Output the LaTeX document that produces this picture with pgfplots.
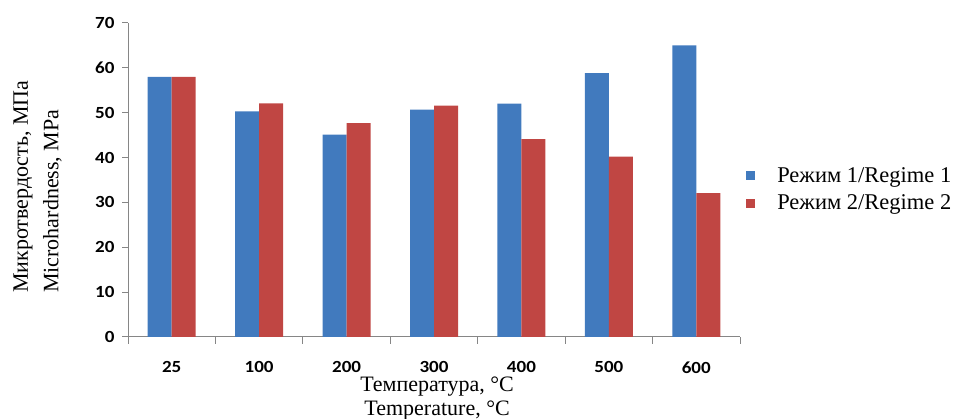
\documentclass[border=0pt]{standalone}
\usepackage{fontspec}
\setmainfont{Liberation Serif}
\newfontfamily\tickfont{Carlito}[FakeStretch=1.12]
\usepackage{pgfplots}
\pgfplotsset{compat=1.18}
\definecolor{rblue}{RGB}{65,122,190}
\definecolor{rred}{RGB}{192,70,67}
\definecolor{axgray}{RGB}{134,134,134}
\begin{document}
\begin{tikzpicture}
\useasboundingbox (0,0) rectangle (957pt,419pt);
\begin{axis}[
  at={(128pt,82pt)}, anchor=south west,
  scale only axis, width=612pt, height=314pt,
  ybar=0pt, bar width=24pt,
  xmin=-0.5, xmax=6.5, ymin=0, ymax=70,
  xtick={0,...,6}, xticklabels={25,100,200,300,400,500,600},
  minor xtick={-0.5,0.5,...,6.5},
  ytick={0,10,...,70},
  axis x line*=bottom, axis y line*=left,
  axis line style={axgray, line width=1pt, -},
  tick align=outside,
  major tick length=6pt, minor tick length=7pt,
  tick style={axgray, line width=1pt},
  major x tick style={draw=none},
  /pgf/number format/assume math mode=true,
  ticklabel style={font=\tickfont\bfseries\fontsize{17}{17}\selectfont},
  xticklabel style={inner sep=0pt, yshift=-18.5pt},
  yticklabel style={xshift=-4pt},
  xlabel={Температура, °C\\Temperature, °C},
  xlabel style={at={(rel axis cs:0.505,0)}, anchor=north, yshift=-39.5pt, inner sep=0pt, align=center, font=\fontsize{22}{24}\selectfont},
  ylabel={Микротвердость, МПа\\Microhardness, MPa},
  ylabel style={at={(rel axis cs:-0.1078,0.14)}, anchor=south west, inner sep=0pt, align=left, font=\fontsize{22}{30.5}\selectfont},
  legend style={at={(1.005,0.47)}, anchor=west, draw=none, fill=none, font=\fontsize{22.5}{22.5}\selectfont, row sep=7pt},
  legend cell align=left,
  legend image code/.code={\fill[#1] (0pt,-4.5pt) rectangle (9pt,4.5pt); \path (0pt,0pt) (29pt,0pt);},
]
\addplot[fill=rblue, draw=none] coordinates {(0,58) (1,50.3) (2,45.1) (3,50.7) (4,52.0) (5,58.8) (6,65.0)};
\addplot[fill=rred, draw=none] coordinates {(0,58) (1,52.1) (2,47.7) (3,51.6) (4,44.1) (5,40.2) (6,32.1)};
\legend{Режим 1/Regime 1, Режим 2/Regime 2}
\end{axis}
\end{tikzpicture}
\end{document}
